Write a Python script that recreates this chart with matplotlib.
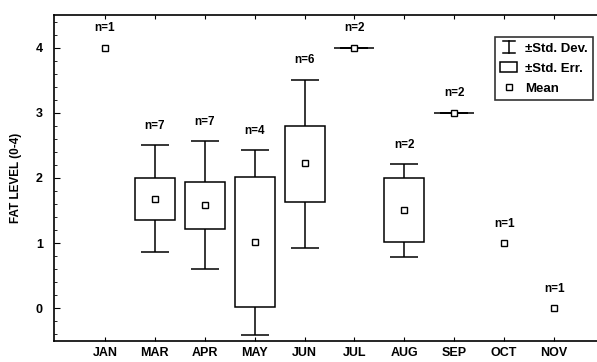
import numpy as np
import matplotlib
matplotlib.use("Agg")
import matplotlib.pyplot as plt
from matplotlib.patches import Patch
from matplotlib.lines import Line2D
from matplotlib.legend_handler import HandlerBase
from matplotlib.ticker import MultipleLocator

plt.rcParams['font.family'] = ['Liberation Sans', 'DejaVu Sans']
plt.rcParams['font.weight'] = 'bold'

# ---- data ----
months = ['JAN', 'MAR', 'APR', 'MAY', 'JUN', 'JUL', 'AUG', 'SEP', 'OCT', 'NOV']
n_obs = [1, 7, 7, 4, 6, 2, 2, 2, 1, 1]
mean = [4.0, 1.68, 1.59, 1.02, 2.23, 4.0, 1.51, 3.0, 1.0, 0.0]
se_lo = [np.nan, 1.36, 1.22, 0.02, 1.63, 4.0, 1.02, 3.0, np.nan, np.nan]
se_hi = [np.nan, 2.00, 1.94, 2.02, 2.79, 4.0, 2.00, 3.0, np.nan, np.nan]
sd_lo = [np.nan, 0.87, 0.61, -0.41, 0.92, 4.0, 0.79, 3.0, np.nan, np.nan]
sd_hi = [np.nan, 2.50, 2.56, 2.43, 3.51, 4.0, 2.21, 3.0, np.nan, np.nan]

x = np.arange(len(months))
se_lo, se_hi = np.array(se_lo), np.array(se_hi)
sd_lo, sd_hi = np.array(sd_lo), np.array(sd_hi)


# legend symbol for the std dev whisker: an "I" with caps
class WhiskerHandler(HandlerBase):
    def create_artists(self, legend, orig_handle, xdescent, ydescent,
                       width, height, fontsize, trans):
        cx = width / 2 - xdescent
        y0, y1 = -ydescent - 1, height - ydescent + 1
        c = width * 0.35
        arts = [Line2D([cx, cx], [y0, y1]),
                Line2D([cx - c, cx + c], [y0, y0]),
                Line2D([cx - c, cx + c], [y1, y1])]
        for a in arts:
            a.set_color('black')
            a.set_linewidth(1.1)
            a.set_transform(trans)
        return arts


fig = plt.figure(figsize=(5.97, 3.62), dpi=100)
ax = fig.add_axes([54 / 597, 21 / 362, 543 / 597, 326 / 362])

lw = 1.1
box_w = 0.8
cap_w = 0.56

# whiskers (std dev) with caps
ax.vlines(x, sd_lo, se_lo, color='black', lw=lw, zorder=2)
ax.vlines(x, se_hi, sd_hi, color='black', lw=lw, zorder=2)
ax.hlines(sd_lo, x - cap_w / 2, x + cap_w / 2, color='black', lw=lw, zorder=2)
ax.hlines(sd_hi, x - cap_w / 2, x + cap_w / 2, color='black', lw=lw, zorder=2)

# boxes (std err)
ax.bar(x, se_hi - se_lo, bottom=se_lo, width=box_w, facecolor='white',
       edgecolor='black', linewidth=lw, zorder=3)

# means
ax.plot(x, mean, linestyle='none', marker='s', markersize=4,
        markerfacecolor='white', markeredgecolor='black', markeredgewidth=1.0,
        zorder=4)

# n labels
for xi, m, top, n in zip(x, mean, sd_hi, n_obs):
    y_top = m if np.isnan(top) else top
    ax.annotate(f'n={n}', (xi, y_top), xytext=(0, 14), textcoords='offset points',
                ha='center', va='center', fontsize=8.5, fontweight='bold')

ax.set_xlim(-1.02, 9.86)
ax.set_ylim(-0.5, 4.5)
ax.set_xticks(x)
ax.set_xticklabels(months)
ax.set_yticks([0, 1, 2, 3, 4])
ax.yaxis.set_minor_locator(MultipleLocator(0.2))
ax.tick_params(axis='both', which='both', direction='in', labelsize=9)
ax.tick_params(axis='x', top=True, length=3, pad=4)
ax.tick_params(axis='y', which='major', length=4, pad=8)
ax.tick_params(axis='y', which='minor', length=2)
ax.spines['right'].set_visible(False)
for s in ['left', 'top', 'bottom']:
    ax.spines[s].set_linewidth(1.2)
ax.set_ylabel('FAT LEVEL (0-4)', fontsize=8.5, fontweight='bold', labelpad=10)

# legend
sd_handle = Line2D([], [], color='black')
handles = [sd_handle,
           Patch(facecolor='white', edgecolor='black', linewidth=1.1),
           Line2D([], [], linestyle='none', marker='s', markersize=4,
                  markerfacecolor='white', markeredgecolor='black')]
labels = ['\u00b1Std. Dev.', '\u00b1Std. Err.', 'Mean']
leg = ax.legend(handles, labels, loc='upper right', bbox_to_anchor=(0.993, 0.9325),
                borderaxespad=0, fancybox=False, fontsize=9.5, handlelength=1.3,
                handletextpad=0.6, labelspacing=0.6, borderpad=0.4,
                handler_map={sd_handle: WhiskerHandler()})
leg.get_frame().set_edgecolor('black')
leg.get_frame().set_linewidth(1.2)

fig.savefig('out.png', dpi=100)
